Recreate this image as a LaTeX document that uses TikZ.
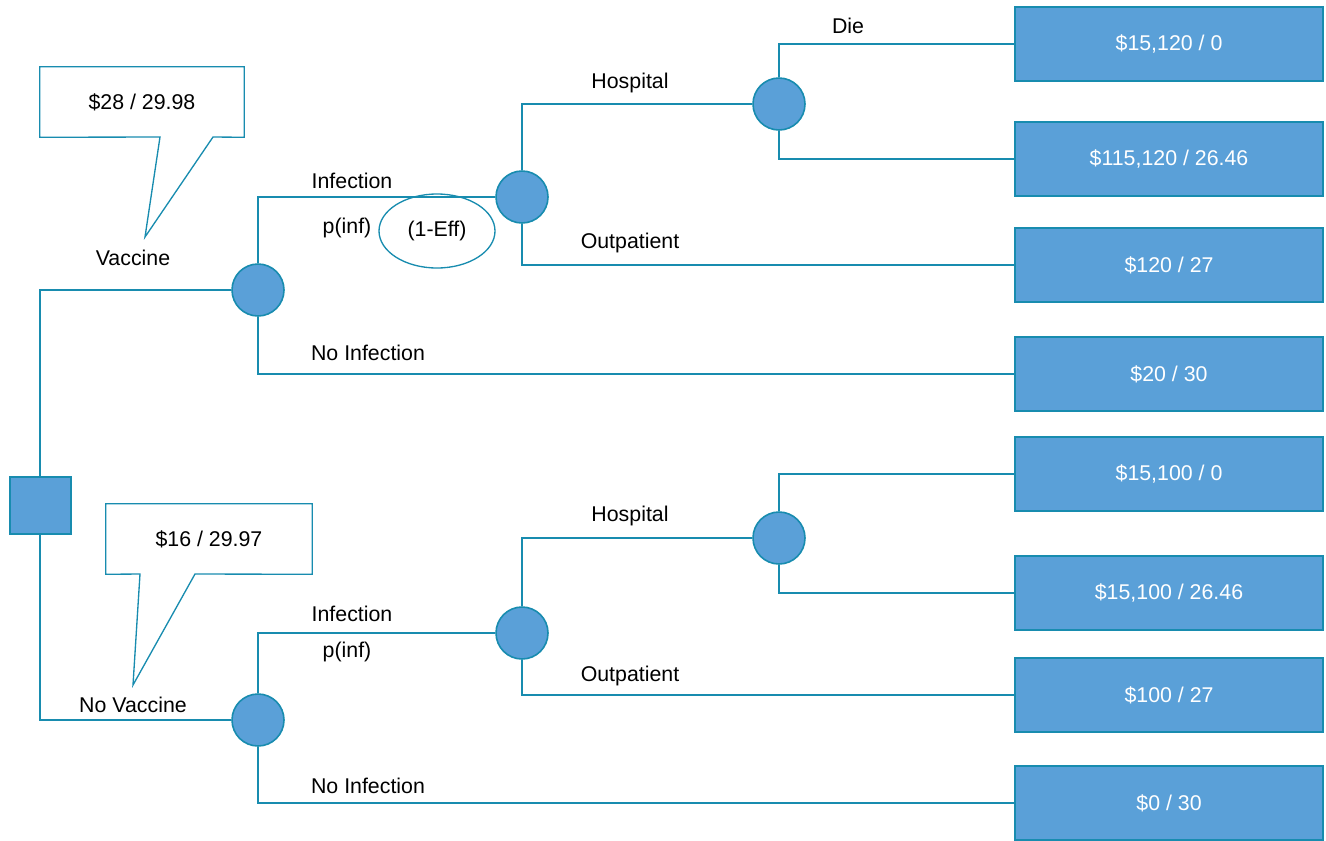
\documentclass[tikz,border=0pt]{standalone}
\usepackage{fontspec}
\setmainfont{Liberation Sans}
\usetikzlibrary{shapes.geometric}
\definecolor{treefill}{RGB}{90,160,216}
\definecolor{treeline}{RGB}{24,140,175}
\begin{document}
\begin{tikzpicture}[x=0.75pt,y=-0.75pt,font=\fontsize{16}{19}\selectfont,
    link/.style={draw=treeline,line width=1.1pt},
    decision/.style={rectangle,draw=treeline,fill=treefill,line width=1.5pt,minimum width=45.75pt,minimum height=42.75pt},
    chance/.style={circle,draw=treeline,fill=treefill,line width=1.2pt,minimum size=39pt,inner sep=0pt},
    payoff/.style={rectangle,draw=treeline,fill=treefill,line width=1pt,minimum width=231pt,minimum height=55.5pt,text=white},
    lbl/.style={inner sep=0pt}]
    \useasboundingbox (0,0) rectangle (1326,840);
    %% decision and chance nodes
    \node[decision] (sq) at (40,505) {};
    \foreach \n/\x/\y in {c1/258/290,c2/522/197,c3/779/104,c4/258/720,c5/522/633,c6/779/538}
        \node[chance] (\n) at (\x,\y) {};
    %% payoffs
    \foreach \n/\y/\t in {t1/44/{\$15,120 / 0},t2/159/{\$115,120 / 26.46},t3/265/{\$120 / 27},t4/374/{\$20 / 30},
                          t5/474/{\$15,100 / 0},t6/593/{\$15,100 / 26.46},t7/695/{\$100 / 27},t8/803/{\$0 / 30}}
        \node[payoff] (\n) at (1169,\y) {\t};
    %% branches
    \draw[link] (sq.north) |- (c1);
    \draw[link] (sq.south) |- (c4);
    \foreach \a/\b/\c/\d/\e/\f in {c1/c2/t4/c2/c3/t3,c4/c5/t8/c5/c6/t7} {
        \draw[link] (\a.north) |- (\b);
        \draw[link] (\a.south) |- (\c);
        \draw[link] (\d.north) |- (\e);
        \draw[link] (\d.south) |- (\f);
    }
    \draw[link] (c3.north) |- (t1);
    \draw[link] (c3.south) |- (t2);
    \draw[link] (c6.north) |- (t5);
    \draw[link] (c6.south) |- (t6);
    %% branch labels
    \node[lbl] (die) at (848,26) {Die};
    \foreach \n/\dy in {a/0,b/433} {
        \node[lbl] (hosp\n) at (630,83+\dy) {Hospital};
        \node[lbl] (inf\n) at (352,181+\dy) {Infection};
        \node[lbl] (outp\n) at (630,243+\dy) {Outpatient};
        \node[lbl] (noinf\n) at (368,353+\dy) {No Infection};
    }
    \node[lbl] (pinfa) at (347,228) {p(inf)};
    \node[lbl] (pinfb) at (347,652) {p(inf)};
    \node[ellipse,draw=treeline,line width=1pt,minimum width=87pt,minimum height=55.5pt,inner sep=0pt] (eff) at (437,231) {(1-Eff)};
    \node[lbl] (vac) at (133,258) {Vaccine};
    \node[lbl] (novac) at (133,705) {No Vaccine};
    %% expected values
    \node[draw=none,minimum width=153pt,minimum height=52.5pt] (ev1) at (142,102) {\$28 / 29.98};
    \coordinate (tip1) at (145,237);
    \draw[link,line width=1pt] (ev1.north west) -- (ev1.north east) -- (ev1.south east) -- (213,137) -- (tip1) -- (160,137) -- (ev1.south west) -- cycle;
    \node[draw=none,minimum width=154.5pt,minimum height=52.5pt] (ev2) at (209,539) {\$16 / 29.97};
    \coordinate (tip2) at (133,685);
    \draw[link,line width=1pt] (ev2.north west) -- (ev2.north east) -- (ev2.south east) -- (195,574) -- (tip2) -- (140,574) -- (ev2.south west) -- cycle;
\end{tikzpicture}
\end{document}
